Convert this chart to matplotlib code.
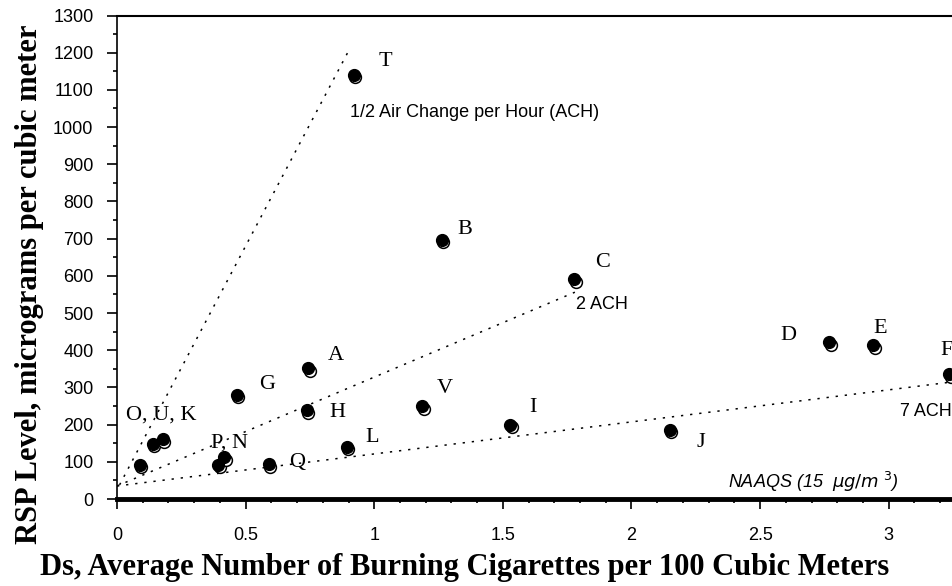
import matplotlib
matplotlib.use("Agg")
import matplotlib.pyplot as plt
from matplotlib.transforms import offset_copy
from matplotlib.ticker import MultipleLocator
from matplotlib import font_manager

# ---- data ----
point_names = ["T", "B", "C", "A", "G", "H", "V", "I", "L", "Q",
               "P", "N", "O", "U", "K", "J", "D", "E", "F"]
ds_values = [0.92, 1.263, 1.778, 0.744, 0.466, 0.738, 1.186, 1.529, 0.894, 0.589,
             0.394, 0.416, 0.089, 0.139, 0.178, 2.149, 2.768, 2.94, 3.235]
rsp_values = [1141, 697, 591, 352, 280, 238, 250, 199, 141, 94,
              92, 112, 92, 148, 160, 186, 421, 414, 336]

label_texts = ["T", "B", "C", "A", "G", "H", "V", "I", "L", "Q",
               "P, N", "O, U, K", "J", "D", "E", "F"]
label_anchor = ["T", "B", "C", "A", "G", "H", "V", "I", "L", "Q",
                "N", "K", "J", "D", "E", "F"]

ach_names = ["1/2 ACH", "2 ACH", "7 ACH"]
ach_x_start = [0.01, 0.0, 0.0]
ach_x_end = [0.905, 1.78, 3.25]
ach_y_start = [38, 35, 35]
ach_y_end = [1211, 556, 315]

x_ticks = [0, 0.5, 1, 1.5, 2, 2.5, 3]
x_tick_labels = ["0", "0.5", "1", "1.5", "2", "2.5", "3"]
y_ticks = list(range(0, 1301, 100))

# ---- fonts ----
avail = {f.name for f in font_manager.fontManager.ttflist}
tick_font = "Liberation Sans Narrow" if "Liberation Sans Narrow" in avail else "Liberation Sans"

fig = plt.figure(figsize=(9.53, 5.86), dpi=100)
ax = fig.add_axes([117 / 953, 1 - 499 / 586, 1 - 117 / 953, (499 - 15.5) / 586])
ax.set_xlim(0, 3.25)
ax.set_ylim(0, 1300)

# model lines
for xs, xe, ys, ye in zip(ach_x_start, ach_x_end, ach_y_start, ach_y_end):
    ax.plot([xs, xe], [ys, ye], color="black", lw=1.1, ls=(0, (1.5, 4.5)))

# points: open ring offset, then filled dot
ring_tr = offset_copy(ax.transData, fig=fig, x=1.5, y=-2.5, units="dots")
ax.plot(ds_values, rsp_values, "o", ms=8.5, mfc="white", mec="black", mew=1.1,
        transform=ring_tr, zorder=3)
ax.plot(ds_values, rsp_values, "o", ms=8.5, mfc="black", mec="black", zorder=4)

# point labels
label_offsets = {"T": (32, 13), "B": (23, 10), "C": (28, 17), "A": (27, 13),
                 "G": (30, 10), "H": (31, -2), "V": (23, 18), "I": (23, 17),
                 "L": (25, 9), "Q": (29, 2), "N": (5, 14), "K": (-2, 24),
                 "J": (31, -13), "D": (-41, 7), "E": (7, 17), "F": (-3, 24)}
for txt, anc in zip(label_texts, label_anchor):
    i = point_names.index(anc)
    ax.annotate(txt, (ds_values[i], rsp_values[i]), xytext=label_offsets[anc],
                textcoords="offset pixels", ha="center", va="center",
                fontsize=16, family="Liberation Serif", annotation_clip=False,
                clip_on=False)

# line annotations
ann_kw = dict(fontsize=13, family="Liberation Sans", va="center")
ax.text(0.907, 1038, "1/2 Air Change per Hour (ACH)", ha="left", **ann_kw)
ax.text(1.786, 522, "2 ACH", ha="left", **ann_kw)
ax.text(3.245, 234, "7 ACH", ha="right", **ann_kw)
ax.text(2.377, 46, r"NAAQS (15  $\mu g/m^{\ 3}$)", ha="left", fontstyle="italic",
        fontsize=13, family="Liberation Sans", va="center")

# spines
ax.spines["right"].set_visible(False)
ax.spines["top"].set_linewidth(1.5)
ax.spines["left"].set_linewidth(1.2)
ax.spines["bottom"].set_linewidth(3.5)

ax.set_xticks(x_ticks)
ax.set_xticklabels(x_tick_labels)
ax.set_yticks(y_ticks)
ax.xaxis.set_minor_locator(MultipleLocator(0.1))
ax.yaxis.set_minor_locator(MultipleLocator(50))
ax.tick_params(axis="both", which="major", direction="out", length=7, width=1.2,
               labelsize=13, colors="black")
ax.tick_params(axis="both", which="minor", direction="out", length=3, width=1.2)
ax.tick_params(axis="y", pad=10)
ax.tick_params(axis="x", pad=13)
for lab in ax.get_xticklabels() + ax.get_yticklabels():
    lab.set_family(tick_font)

ax.set_xlabel("Ds, Average Number of Burning Cigarettes per 100 Cubic Meters",
              family="Liberation Serif", fontweight="bold", fontsize=22)
ax.xaxis.set_label_coords((465 - 117) / 836, -(568 - 499) / 483.5)
ax.set_ylabel("RSP Level, micrograms per cubic meter",
              family="Liberation Serif", fontweight="bold", fontsize=22)
ax.yaxis.set_label_coords(-(117 - 30) / 836, (499 - 284) / 483.5)
ax.xaxis.label.set_va("center")
ax.yaxis.label.set_va("center")

fig.savefig("out.png", dpi=100, facecolor="white")
